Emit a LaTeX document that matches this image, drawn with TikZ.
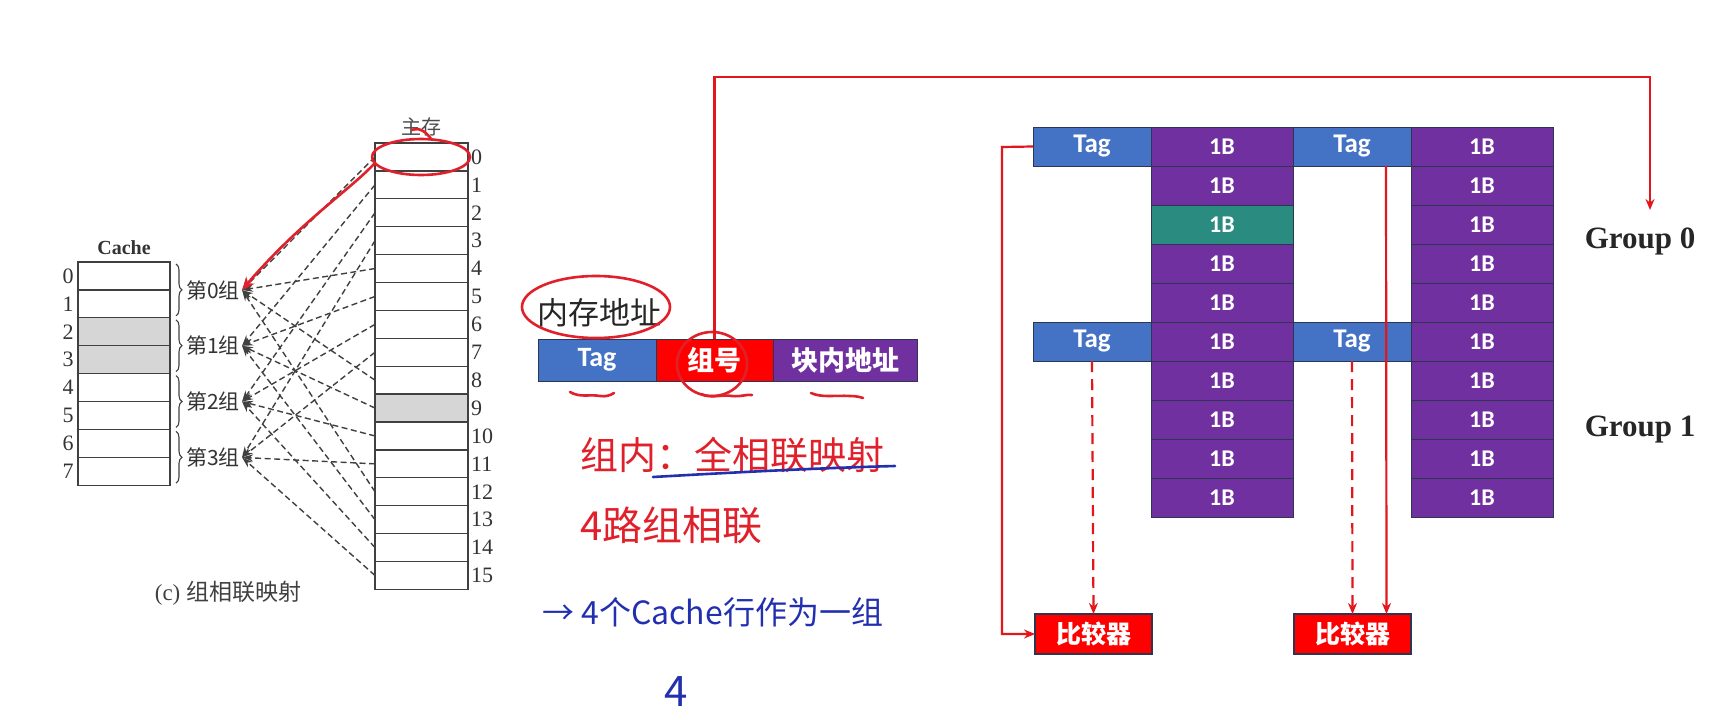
\documentclass[tikz,border=0pt]{standalone}
\usepackage{fontspec}
\setmainfont{Liberation Serif}
\newfontfamily\cjk{Noto Sans CJK SC}
\newfontfamily\calfont{Carlito}
\usetikzlibrary{arrows.meta,decorations.pathreplacing,calc}
\definecolor{tagblue}{HTML}{4472C4}
\definecolor{bpurple}{HTML}{7030A0}
\definecolor{bteal}{HTML}{2A8C80}
\definecolor{pred}{HTML}{E3161C}
\definecolor{inkred}{HTML}{E0202A}
\definecolor{inkblue}{HTML}{2230B0}
\definecolor{cellgray}{HTML}{D6D6D6}
\definecolor{edgec}{HTML}{2E3550}
\begin{document}
\begin{tikzpicture}[x=1pt,y=-1pt,
  memcell/.style={draw=black!75, line width=1.3pt, minimum width=93pt, minimum height=27.9pt, inner sep=0pt, outer sep=0pt, anchor=north west},
  cachecell/.style={memcell, minimum width=92pt},
  numlab/.style={font=\fontsize{22}{22}\selectfont, text=black!80, inner sep=0pt},
  grplabel/.style={font=\cjk\fontsize{21}{21}\selectfont, text=black!80, inner sep=2pt},
  dasharrow/.style={draw=black!75, line width=1.4pt, dash pattern=on 6pt off 3.5pt, -{Stealth[length=11pt,width=7pt]}},
  ink/.style={line width=2.6pt, line cap=round, line join=round},
  addr/.style={draw=edgec, line width=1pt, minimum height=42pt, inner sep=0pt, outer sep=0pt, anchor=north west, text=white, font=\cjk\bfseries\fontsize{27}{27}\selectfont},
  tagc/.style={draw=edgec, line width=1pt, fill=tagblue, text=white, minimum width=118pt, minimum height=39pt, inner sep=0pt, outer sep=0pt, anchor=north west, font=\calfont\bfseries\fontsize{27}{27}\selectfont},
  bcell/.style={draw=edgec, line width=1pt, text=white, minimum width=142pt, minimum height=39pt, inner sep=0pt, outer sep=0pt, anchor=north west, font=\calfont\bfseries\fontsize{24}{24}\selectfont},
  cmpbox/.style={draw=edgec, line width=1.2pt, fill=red, text=white, minimum width=117pt, minimum height=40pt, inner sep=0pt, outer sep=0pt, font=\cjk\bfseries\fontsize{25}{25}\selectfont},
  redline/.style={draw=pred, line width=2.2pt},
  redarrow/.style={redline, -{Stealth[length=11pt,width=9pt]}},
  reddash/.style={redarrow, dash pattern=on 11pt off 7pt},
  grouptxt/.style={font=\bfseries\fontsize{31}{31}\selectfont, text=black!85},
  hand/.style={font=\cjk\fontsize{#1}{#1}\selectfont, inner sep=0pt, anchor=west}
]
\useasboundingbox (0,0) rectangle (1736,720);
\fill[white] (0,0) rectangle (1736,720);

% ---------------- left figure ----------------
\fill[cellgray] (375,{143+27.9*9}) rectangle (468,{143+27.9*10});
\fill[cellgray] (78,{262+27.9*2}) rectangle (170,{262+27.9*4});
\node[font=\fontsize{20}{20}\selectfont, text=black!70] (mainlab) at (421,127) {\cjk 主存};
\node[font=\fontsize{20}{20}\selectfont\bfseries, text=black!80] (cachelab) at (124,248) {Cache};
\foreach \i in {0,...,15}{
  \pgfmathsetmacro\yy{143+27.9*\i}
  \node[memcell] (m\i) at (375,\yy) {};
  \node[numlab, anchor=west] (mn\i) at (471,\yy+14) {\i};
}
\foreach \i in {0,...,7}{
  \pgfmathsetmacro\yy{262+27.9*\i}
  \node[cachecell] (c\i) at (78,\yy) {};
  \node[numlab] (cn\i) at (68,\yy+14) {\i};
}
\foreach \k in {0,...,3}{
  \pgfmathsetmacro\ya{262+55.8*\k+2}
  \pgfmathsetmacro\yb{262+55.8*(\k+1)-2}
  \draw[black!75, line width=1.1pt, decorate, decoration={brace, amplitude=6pt}] (176,\ya) -- (176,\yb);
  \node[grplabel] (g\k) at (213,{262+55.8*\k+28}) {第\k 组};
}
\foreach \i in {0,...,15}{
  \pgfmathtruncatemacro\gg{mod(\i,4)}
  \draw[dasharrow] (m\i.west) -- (g\gg.east);
}
\node[font=\fontsize{23}{23}\selectfont, text=black!75] (cap) at (228,593) {(c) {\cjk 组相联映射}};
% hand-drawn red marks on left figure
\draw[ink, inkred] (421,157) ellipse [x radius=49pt, y radius=18pt];
\draw[ink, inkred] (412,130) .. controls (420,127) and (426,132) .. (432,140);
\draw[ink, inkred, -{Stealth[length=13pt,width=11pt]}] ([yshift=-6pt]m0.west) .. controls (350,190) and (300,222) .. (g0.east);

% ---------------- address ----------------
\node[font=\cjk\fontsize{31}{31}\selectfont, text=black!85] (addrlab) at (599,313) {内存地址};
\node[addr, fill=tagblue, minimum width=118pt, font=\calfont\bfseries\fontsize{28}{28}\selectfont] (atag) at (538,339) {Tag};
\node[addr, fill=red, minimum width=117pt] (agrp) at (656,339) {组号};
\node[addr, fill=bpurple, minimum width=144pt] (aoff) at (773,339) {块内地址};
\draw[ink, inkred] (596,307) ellipse [x radius=74pt, y radius=31pt];
\draw[ink, inkred] (712,364) ellipse [x radius=35pt, y radius=32pt];
\draw[ink, inkred] (570,392) .. controls (580,398) and (590,394) .. (600,396) .. controls (606,397) and (611,395) .. (614,393);
\draw[ink, inkred] (701,394) .. controls (712,399) and (722,394) .. (732,396) .. controls (740,397) and (748,394) .. (752,395);
\draw[ink, inkred] (811,393) .. controls (822,398) and (835,395) .. (850,396) .. controls (856,396) and (860,397) .. (863,398);

% handwritten notes
\node[hand=38, text=inkred] (n1) at (580,455) {组内：全相联映射};
\draw[ink, inkblue] (653,477) .. controls (740,472) and (820,468) .. (895,466);
\node[hand=40, text=inkred] (n2) at (580,525) {4路组相联};
\node[hand=32, text=inkblue] (n3) at (542,612) {→ 4个Cache行作为一组};
\node[hand=42, text=inkblue] (n4) at (664,692) {4};

% ---------------- right structure ----------------
\node[tagc] (t1) at (1033,127) {Tag};
\node[tagc] (t2) at (1293,127) {Tag};
\node[tagc] (t3) at (1033,322) {Tag};
\node[tagc] (t4) at (1293,322) {Tag};
\foreach \r in {0,...,9}{
  \ifnum\r=2 \def\fc{bteal}\else\def\fc{bpurple}\fi
  \node[bcell, fill=\fc] (a\r) at (1151,{127+39*\r}) {1B};
  \node[bcell, fill=bpurple] (b\r) at (1411,{127+39*\r}) {1B};
}
\node[cmpbox] (cmp1) at (1093.5,634) {比较器};
\node[cmpbox] (cmp2) at (1352.5,634) {比较器};
\node[grouptxt] (G0) at (1640,241) {Group 0};
\node[grouptxt] (G1) at (1640,430) {Group 1};

\coordinate (topy) at (0,77);
\coordinate (g0tip) at (1650,210);
\coordinate (lbend) at (1002,147);
\draw[redarrow] (agrp.north) -- (agrp.north |- topy) -| (g0tip);
\draw[redarrow] (t1.west) -- (lbend) |- (cmp1.west);
\draw[reddash] (t3.south) -- (cmp1.north);
\draw[reddash] (t4.south) -- (cmp2.north);
\draw[redarrow] ([xshift=34pt]t2.south) -- ([xshift=34pt]cmp2.north);
\end{tikzpicture}
\end{document}
